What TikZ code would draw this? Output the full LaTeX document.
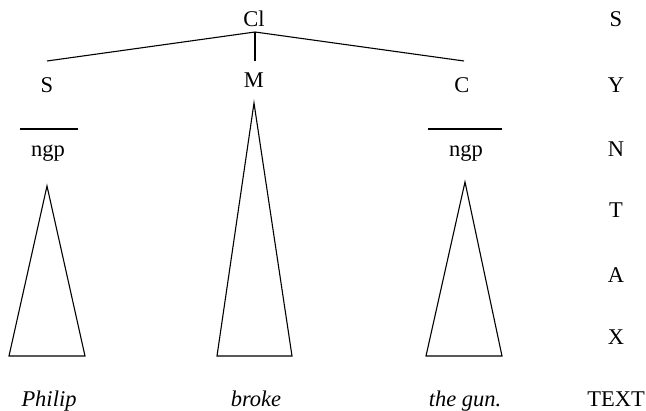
\documentclass[tikz,border=0pt]{standalone}
\usepackage{fontspec}
\setmainfont{Liberation Serif}
\begin{document}
\begin{tikzpicture}[x=1pt,y=-1pt,
  lbl/.style={anchor=base, inner sep=0pt, font=\fontsize{22.5}{27}\selectfont},
  itl/.style={anchor=base, inner sep=0pt, font=\fontsize{22.5}{27}\selectfont\itshape},
  ln/.style={line width=1.1pt},
  tri/.style={line width=1.1pt, line join=miter}]
\useasboundingbox (0,0) rectangle (646,411);
% tree labels
\node[lbl] (cl) at (254,27) {Cl};
\node[lbl] (s) at (47,93) {S};
\node[lbl] (m) at (254,88) {M};
\node[lbl] (c) at (462,93) {C};
\node[lbl] (ngpa) at (48,157) {ngp};
\node[lbl] (ngpb) at (466,157) {ngp};
% right column
\node[lbl] (r1) at (616,27) {S};
\node[lbl] (r2) at (616,93) {Y};
\node[lbl] (r3) at (616,157) {N};
\node[lbl] (r4) at (616,218) {T};
\node[lbl] (r5) at (616,283) {A};
\node[lbl] (r6) at (616,345) {X};
\node[lbl] (r7) at (616,407) {TEXT};
% bottom words
\node[itl] (w1) at (49,407) {Philip};
\node[itl] (w2) at (256,407) {broke};
\node[itl] (w3) at (465,407) {the gun.};
% branches
\coordinate (j) at (255,32);
\coordinate (sT) at (47,61);
\coordinate (mT) at (255,61);
\coordinate (cT) at (464,61);
\draw[ln] (j) -- (sT);
\draw[ln] (j) -- (mT);
\draw[ln] (j) -- (cT);
% bars
\draw[ln] (20,129) -- (78,129);
\draw[ln] (428,129) -- (502,129);
% triangles
\draw[tri] (47,186) -- (85,356) -- (9,356) -- cycle;
\draw[tri] (254,103) -- (292,356) -- (217,356) -- cycle;
\draw[tri] (465,182) -- (502,356) -- (426,356) -- cycle;
\end{tikzpicture}
\end{document}
